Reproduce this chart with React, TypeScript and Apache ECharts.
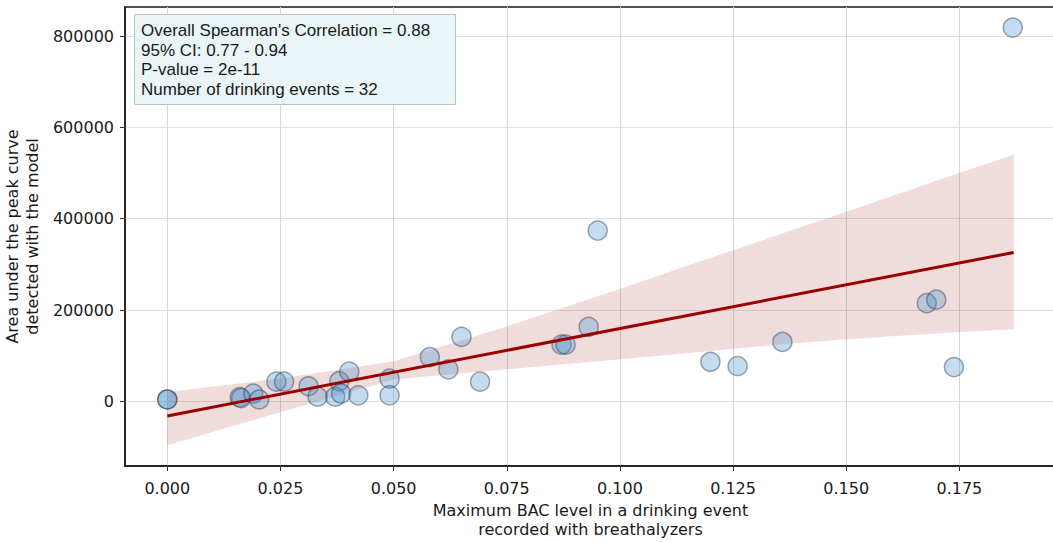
import React, { useEffect, useRef } from "react";
import * as echarts from "echarts";

// Maximum BAC level per drinking event (x) and area under the peak curve (y)
const bac = [
  0, 0, 0.016, 0.0163, 0.019, 0.0203, 0.0241, 0.0258, 0.0312, 0.0332, 0.0371,
  0.038, 0.0384, 0.0402, 0.0422, 0.0491, 0.0491, 0.058, 0.065, 0.0621, 0.0691,
  0.0871, 0.088, 0.0931, 0.0951, 0.12, 0.126, 0.1359, 0.1678, 0.1699, 0.1738,
  0.1868,
];
const area = [
  4000, 4000, 9000, 7000, 17000, 4000, 43000, 43000, 33000, 10000, 10000,
  44000, 17000, 65000, 13000, 49500, 13000, 96600, 141000, 70000, 43000,
  124000, 124000, 163000, 374000, 86600, 77000, 130000, 215000, 222500, 75000,
  818600,
];

// Regression line end points
const fitX = [0, 0.187];
const fitY = [-32000, 326000];

// Confidence band
const bandX = [0, 0.025, 0.05, 0.075, 0.1, 0.1176, 0.136, 0.15, 0.175, 0.187];
const bandUpper = [20300, 50000, 88000, 164000, 246000, 306000, 368000, 415000, 500000, 540000];
const bandLower = [-96000, -24000, 48000, 70000, 92000, 108000, 125000, 136000, 152000, 158000];

// Tick values
const xTicks = [0, 0.025, 0.05, 0.075, 0.1, 0.125, 0.15, 0.175];
const yTicks = [0, 200000, 400000, 600000, 800000];

const statLines = [
  "Overall Spearman's Correlation = 0.88",
  "95% CI: 0.77 - 0.94",
  "P-value = 2e-11",
  "Number of drinking events = 32",
];

export default function App() {
  const ref = useRef<HTMLDivElement>(null);
  useEffect(() => {
    if (!ref.current) return;
    const chart = echarts.init(ref.current, undefined, { renderer: "svg" });
    const tickFont = { fontFamily: "DejaVu Sans", fontSize: 16, color: "#1a1a1a" };
    chart.setOption({
      animation: false,
      backgroundColor: "#ffffff",
      grid: {
        left: 125,
        top: 7,
        right: -3,
        bottom: 76,
        outerBoundsMode: "none",
        containLabel: false,
        show: true,
        borderColor: "#1a1a1a",
        borderWidth: 1.5,
        backgroundColor: "transparent",
      },
      xAxis: {
        type: "value",
        min: -0.00935,
        max: 0.19635,
        axisLine: { show: true, onZero: false, lineStyle: { color: "#1a1a1a", width: 1.5 } },
        axisTick: { show: true, length: 5, customValues: xTicks, lineStyle: { color: "#333" } },
        axisLabel: {
          ...tickFont,
          margin: 14,
          customValues: xTicks,
          formatter: (v: number) => v.toFixed(3),
        },
        splitLine: { show: true, lineStyle: { color: "#d6d6d6", width: 1 } },
        name: "Maximum BAC level in a drinking event\nrecorded with breathalyzers",
        nameLocation: "middle",
        nameGap: 35,
        nameTextStyle: { fontFamily: "DejaVu Sans", fontSize: 16, color: "#1a1a1a", lineHeight: 19 },
      },
      yAxis: {
        type: "value",
        min: -141700,
        max: 863700,
        axisLine: { show: true, onZero: false, lineStyle: { color: "#1a1a1a", width: 1.5 } },
        axisTick: { show: true, length: 5, customValues: yTicks, lineStyle: { color: "#333" } },
        axisLabel: {
          ...tickFont,
          margin: 11,
          customValues: yTicks,
          formatter: (v: number) => String(Math.round(v)),
        },
        splitLine: { show: true, lineStyle: { color: "#e0e0e0", width: 1 } },
        name: "Area under the peak curve\ndetected with the model",
        nameLocation: "middle",
        nameGap: 65,
        nameRotate: 90,
        nameTextStyle: { fontFamily: "DejaVu Sans", fontSize: 16, color: "#1a1a1a", lineHeight: 20 },
      },
      series: [
        {
          type: "custom",
          silent: true,
          clip: true,
          z: 1,
          data: [[0, 0]],
          renderItem: (_params: any, api: any) => {
            const pts: number[][] = [];
            for (let i = 0; i < bandX.length; i++) pts.push(api.coord([bandX[i], bandUpper[i]]));
            for (let i = bandX.length - 1; i >= 0; i--) pts.push(api.coord([bandX[i], bandLower[i]]));
            return {
              type: "polygon",
              shape: { points: pts },
              style: { fill: "rgba(160,20,20,0.15)" },
            };
          },
        },
        {
          type: "scatter",
          z: 2,
          symbolSize: 19,
          data: bac.map((x, i) => [x, area[i]]),
          itemStyle: {
            color: "rgba(70,145,205,0.4)",
            borderColor: "rgba(40,55,75,0.55)",
            borderWidth: 1.5,
          },
        },
        {
          type: "line",
          z: 3,
          symbol: "none",
          data: fitX.map((x, i) => [x, fitY[i]]),
          lineStyle: { color: "#990000", width: 3 },
        },
      ],
      graphic: [
        {
          type: "rect",
          left: 134,
          top: 14,
          shape: { width: 321, height: 90 },
          style: { fill: "#e9f5f7", stroke: "#b3c7ca", lineWidth: 1 },
          z: 10,
        },
        ...statLines.map((t, i) => ({
          type: "text",
          x: 141,
          y: 30.7 + i * 19.55,
          z: 11,
          style: {
            text: t,
            fontFamily: "Liberation Sans",
            fontSize: 17,
            verticalAlign: "middle",
            align: "left",
            fill: "#1a1a1a",
          },
        })),
      ],
    });
    return () => chart.dispose();
  }, []);
  return (
    <div
      ref={ref}
      style={{ position: "absolute", left: 0, top: 0, width: 1053, height: 542 }}
    />
  );
}
